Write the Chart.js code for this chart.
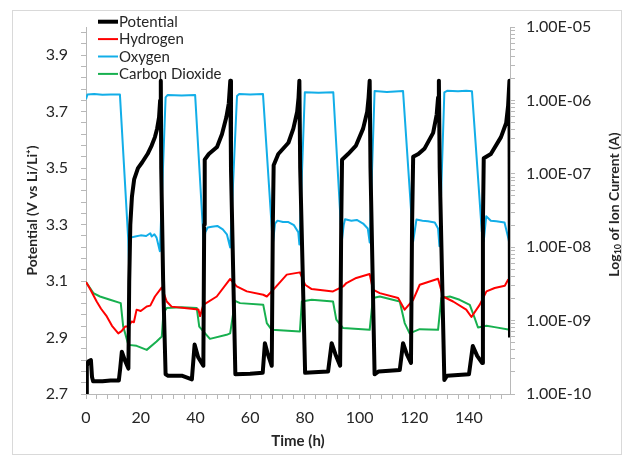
<!DOCTYPE html>
<html><head><meta charset="utf-8">
<script src="https://cdn.jsdelivr.net/npm/chart.js@4"></script>
<style>html,body{margin:0;padding:0;background:#fff}</style>
</head><body>
<canvas id="c" width="626" height="460"></canvas>
<script>
// ---- data (time in h, potential in V, ion currents in A) ----
const potential = [[0,2.70],[0.3,2.80],[0.8,2.815],[1.8,2.82],[2.2,2.76],[2.6,2.745],[6,2.745],[9,2.748],[12,2.748],[12.5,2.79],[13.1,2.85],[14.2,2.82],[15.5,2.79],[15.8,3.1],[16.2,3.3],[16.8,3.4],[17.6,3.46],[19,3.5],[20.5,3.52],[22.5,3.55],[24,3.58],[25.2,3.61],[26,3.64],[26.7,3.68],[27.1,3.74],[27.35,3.81],[27.5,3.5],[28.2,3.1],[29.1,2.77],[30,2.765],[35,2.765],[38.7,2.752],[39.7,2.875],[41,2.83],[42.9,2.80],[43.2,3.3],[43.4,3.53],[44.9,3.55],[47.9,3.575],[49.7,3.62],[51.3,3.68],[52.2,3.73],[52.75,3.81],[53.0,3.5],[54.6,2.77],[60,2.772],[64.6,2.775],[65.4,2.88],[66.5,2.84],[67.9,2.80],[68.3,3.3],[68.6,3.51],[70.3,3.55],[74,3.59],[75.8,3.64],[77.2,3.70],[77.7,3.75],[78.0,3.81],[78.3,3.5],[80.1,2.775],[85,2.778],[88.5,2.78],[89.8,2.88],[91.2,2.84],[92.9,2.80],[93.3,3.3],[93.6,3.53],[95.8,3.55],[98.7,3.58],[101.3,3.64],[102.8,3.70],[103.3,3.75],[103.7,3.81],[104.0,3.5],[105.5,2.77],[107,2.78],[114.7,2.785],[115.9,2.88],[117.3,2.84],[118.8,2.81],[119.2,3.3],[119.6,3.54],[121.5,3.55],[123.8,3.57],[126.9,3.625],[128.2,3.69],[128.7,3.75],[129.0,3.81],[129.3,3.5],[131,2.75],[132,2.765],[140,2.77],[141.4,2.87],[143,2.835],[144.8,2.81],[145.1,3.3],[145.4,3.535],[148,3.55],[151.7,3.61],[153.6,3.66],[154.3,3.72],[154.8,3.81],[155,2.9]];

const hydrogen = [[0,3.36e-9],[1.5,2.7e-9],[3.9,1.82e-9],[5.5,1.45e-9],[7.6,1.14e-9],[9.5,8.5e-10],[11.8,6.7e-10],[13,7.2e-10],[14.3,8.3e-10],[15.5,8.3e-10],[16.7,9.7e-10],[17.5,9.5e-10],[18.5,1.41e-9],[20,1.35e-9],[22.2,1.56e-9],[23.5,1.6e-9],[25.2,2.13e-9],[27.7,2.83e-9],[29.5,1.82e-9],[31.3,1.55e-9],[36.8,1.47e-9],[41.1,1.42e-9],[41.7,1.15e-9],[42.9,1.64e-9],[47.8,2.13e-9],[52.7,3.69e-9],[55.1,2.92e-9],[58.8,2.5e-9],[64.8,2.25e-9],[66.1,2.13e-9],[68.5,2.64e-9],[73.4,4.23e-9],[78.2,4.54e-9],[80.1,3.08e-9],[82.5,2.69e-9],[90.3,2.5e-9],[94,2.92e-9],[95.2,3.25e-9],[98.8,3.81e-9],[103.7,4.32e-9],[104.9,2.64e-9],[107.4,2.37e-9],[114.1,2.03e-9],[116.5,1.41e-9],[119.6,1.92e-9],[122,3.08e-9],[128.7,3.72e-9],[130.5,2.13e-9],[134.2,1.82e-9],[139,1.41e-9],[140.9,1.12e-9],[143.9,1.64e-9],[146.4,2.5e-9],[149.4,2.78e-9],[153.1,2.99e-9],[154.3,3.61e-9],[155,3.08e-9]];

const oxygen = [[0,1.04e-6],[0.5,1.2e-6],[3,1.22e-6],[6,1.19e-6],[9,1.2e-6],[12.4,1.2e-6],[15.4,1.35e-8],[15.8,4.9e-9],[16.2,1.35e-8],[18,1.4e-8],[20,1.45e-8],[22,1.42e-8],[23.5,1.55e-8],[24,1.4e-8],[25,1.5e-8],[25.8,1.35e-8],[27,8.8e-9],[29.1,1.1e-6],[29.8,1.18e-6],[35,1.17e-6],[39.9,1.18e-6],[43.1,1.03e-8],[43.6,1.6e-8],[44.5,1.85e-8],[46,1.9e-8],[48,1.95e-8],[50,1.75e-8],[51.5,1.5e-8],[52.7,9.9e-9],[55.2,1.15e-6],[56,1.22e-6],[60,1.2e-6],[64.7,1.22e-6],[68.3,1.1e-8],[69.1,2.1e-8],[70,2.3e-8],[72,2.2e-8],[74,2.2e-8],[76,2.0e-8],[77.6,1.6e-8],[78,1.09e-8],[80,1.29e-6],[85,1.27e-6],[90.4,1.29e-6],[93.5,1.2e-8],[94.2,2.0e-8],[94.7,2.4e-8],[97,2.3e-8],[99,2.35e-8],[101.3,2.1e-8],[103,1.8e-8],[103.7,1.16e-8],[105.5,1.34e-6],[110,1.3e-6],[115.9,1.34e-6],[119.6,1.2e-8],[120.8,2.38e-8],[123,2.3e-8],[125,2.25e-8],[127.5,2.17e-8],[128.7,1.8e-8],[129.2,1.03e-8],[131,1.29e-6],[132,1.35e-6],[136,1.33e-6],[139,1.35e-6],[141.1,1.33e-6],[144.7,1.63e-8],[145.4,1.2e-8],[146.3,2.64e-8],[148,2.3e-8],[150,2.25e-8],[153,2.17e-8],[154.5,1.27e-8],[155,1.0e-8]];

const carbonDioxide = [[0,3.36e-9],[2.7,2.37e-9],[5.1,2.13e-9],[8.8,1.92e-9],[12.7,1.73e-9],[13.6,8.3e-10],[15.5,4.67e-10],[18.5,4.53e-10],[22.2,3.99e-10],[25.8,5.18e-10],[27.7,6.06e-10],[28.3,1.27e-9],[29.5,1.48e-9],[35,1.52e-9],[40.5,1.48e-9],[41.4,8.3e-10],[45.3,5.64e-10],[51.4,6.4e-10],[52.7,6.7e-10],[54.5,1.86e-9],[56.3,1.73e-9],[64.8,1.64e-9],[66.1,9.25e-10],[67.9,7.48e-10],[78.2,7.1e-10],[78.9,1.82e-9],[82.5,1.92e-9],[90.3,1.82e-9],[91.5,1.03e-9],[94,7.9e-10],[103.7,7.48e-10],[104.9,2.03e-9],[107.4,2.13e-9],[114.7,1.82e-9],[116.5,9.25e-10],[118.3,6.7e-10],[122,7.65e-10],[128.7,7.48e-10],[129.9,2.03e-9],[133,2.13e-9],[136.6,1.92e-9],[140.3,1.64e-9],[142.1,1.08e-9],[143.3,8.05e-10],[146.4,8.49e-10],[149.4,8.15e-10],[154.9,7.48e-10]];

const seriesNames = ['Potential','Hydrogen','Oxygen','Carbon Dioxide'];
const xMajorLabels = [0,20,40,60,80,100,120,140];
const leftLabels = [2.7,2.9,3.1,3.3,3.5,3.7,3.9];
const rightLabels = ['1.00E-10','1.00E-09','1.00E-08','1.00E-07','1.00E-06','1.00E-05'];

// ---- build ----
const toPts = arr => arr.map(p => ({x:p[0], y:p[1]}));
const FONT = 'Lato';
const TXT = '#262626';
const AX = '#b8b8b8';

const frame = {
  id:'frame',
  beforeDraw(chart){
    const c = chart.ctx; c.save();
    c.fillStyle = '#fff'; c.fillRect(0,0,chart.width,chart.height);
    c.strokeStyle = '#d9d9d9'; c.lineWidth = 1;
    c.strokeRect(12.5,10.5,609,444);
    c.restore();
  }
};

const legendAndTitle = {
  id:'legendAndTitle',
  afterDraw(chart){
    const c = chart.ctx; c.save();
    c.font = '15px ' + FONT; c.textBaseline = 'middle'; c.textAlign = 'left';
    chart.data.datasets.forEach((ds,i)=>{
      const y = 21.7 + i*17.4;
      c.strokeStyle = ds.borderColor; c.lineWidth = ds.borderWidth;
      c.lineCap = 'butt';
      c.beginPath(); c.moveTo(98,y); c.lineTo(118,y); c.stroke();
      c.fillStyle = TXT; c.fillText(ds.label, 119, y+0.5);
    });
    // right axis title with subscript
    const yR = chart.scales.yR;
    const cy = (yR.top + yR.bottom)/2 - 6;
    c.translate(614, cy); c.rotate(-Math.PI/2);
    const big = 'bold 14px ' + FONT, small = 'bold 9px ' + FONT;
    const p1 = 'Log', p2 = '10', p3 = ' of Ion Current (A)';
    c.font = big; const w1 = c.measureText(p1).width, w3 = c.measureText(p3).width;
    c.font = small; const w2 = c.measureText(p2).width;
    let x = -(w1+w2+w3)/2;
    c.fillStyle = TXT; c.textBaseline = 'middle';
    c.font = big; c.fillText(p1, x, 0); x += w1;
    c.font = small; c.fillText(p2, x, 4); x += w2;
    c.font = big; c.fillText(p3, x, 0);
    c.restore();
  }
};

const expLabel = v => {
  const e = Math.round(Math.log10(v));
  const m = v / Math.pow(10,e);
  if (Math.abs(m-1) > 1e-6) return '';
  return rightLabels.find(s => parseInt(s.slice(5),10) === e) || '';
};

new Chart(document.getElementById('c'), {
  type:'line',
  data:{
    datasets:[
      {label:seriesNames[0], data:toPts(potential), yAxisID:'yL', borderColor:'#000000', borderWidth:4},
      {label:seriesNames[1], data:toPts(hydrogen), yAxisID:'yR', borderColor:'#ff0000', borderWidth:2},
      {label:seriesNames[2], data:toPts(oxygen), yAxisID:'yR', borderColor:'#12aee8', borderWidth:2},
      {label:seriesNames[3], data:toPts(carbonDioxide), yAxisID:'yR', borderColor:'#17b04f', borderWidth:2}
    ]
  },
  options:{
    responsive:false, animation:false, devicePixelRatio:1,
    layout:{padding:{top:27,left:0,right:0,bottom:0}},
    elements:{point:{radius:0}, line:{tension:0, borderJoinStyle:'round'}},
    plugins:{legend:{display:false}, tooltip:{enabled:false}},
    scales:{
      x:{type:'linear', min:0, max:155, position:'bottom',
        afterBuildTicks:s=>{const t=[];for(let v=0;v<=155;v+=4)t.push({value:v});s.ticks=t;},
        afterFit:s=>{s.height=66;},
        ticks:{autoSkip:false, maxRotation:0, padding:9, color:TXT, font:{family:FONT,size:16},
          callback:v=> xMajorLabels.includes(v) ? String(v) : ''},
        grid:{drawOnChartArea:false, drawTicks:true, tickLength:5, color:AX},
        border:{color:AX},
        title:{display:true, text:'Time (h)', color:TXT, font:{family:FONT,size:15,weight:'bold'}, padding:{top:0,bottom:10}}
      },
      yL:{type:'linear', position:'left', min:2.7, max:4.0,
        afterBuildTicks:s=>{const t=[];for(let k=0;k<=32;k++)t.push({value:Math.round((2.7+0.04*k)*100)/100});s.ticks=t;},
        afterFit:s=>{s.width=86;},
        ticks:{autoSkip:false, padding:13, color:TXT, font:{family:FONT,size:16},
          callback:v=>{const l=leftLabels.find(a=>Math.abs(a-v)<1e-6);return l!==undefined? l.toFixed(1):'';}},
        grid:{drawOnChartArea:false, drawTicks:true, tickLength:5, color:AX},
        border:{color:AX},
        title:{display:true, text:'Potential (V vs Li/Li⁺)', color:TXT, font:{family:FONT,size:14,weight:'bold'}, padding:{top:24,bottom:0}}
      },
      yR:{type:'logarithmic', position:'right', min:1e-10, max:1e-5,
        afterBuildTicks:s=>{const t=[];for(let e=-10;e<=-6;e++){for(let m=1;m<=9;m++)t.push({value:m*Math.pow(10,e)});}t.push({value:1e-5});s.ticks=t;},
        afterFit:s=>{s.width=116;},
        ticks:{autoSkip:false, padding:11, color:TXT, font:{family:FONT,size:16}, callback:v=>expLabel(v)},
        grid:{drawOnChartArea:false, drawTicks:true, tickLength:5, color:AX},
        border:{color:AX}
      }
    }
  },
  plugins:[frame, legendAndTitle]
});
</script>
</body></html>
